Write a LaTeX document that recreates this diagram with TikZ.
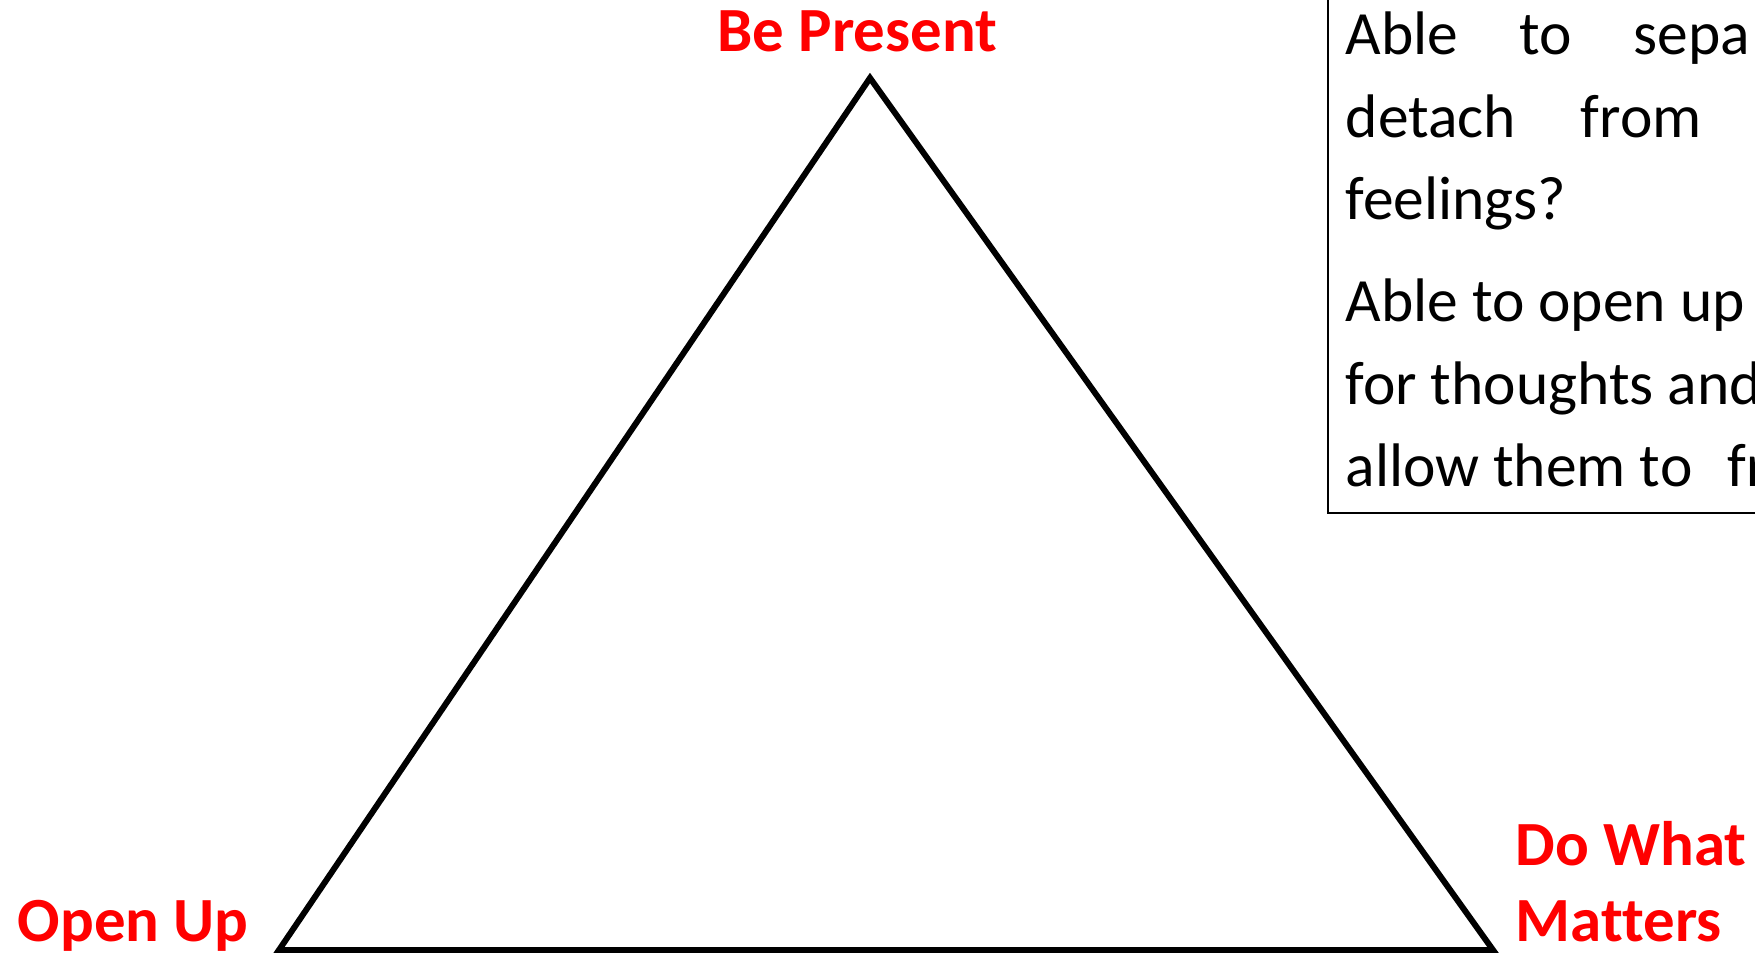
\documentclass[tikz,border=0pt]{standalone}
\usepackage{fontspec}
\setmainfont{Carlito}[Ligatures=NoCommon]
\usetikzlibrary{positioning}
\definecolor{actred}{HTML}{FF0000}

\begin{document}
\begin{tikzpicture}[
  corner/.style={font=\fontsize{17.9}{21.9}\selectfont\bfseries, text=actred, inner sep=0pt, align=left},
  boxtext/.style={font=\fontsize{17.5}{23.6}\selectfont, inner sep=0pt, align=left, anchor=base west},
  triline/.style={line width=1.7pt, line join=miter},
]
\useasboundingbox (0,0) rectangle (17.55,9.53);
\clip (0,0) rectangle (17.55,9.53);

% Triangle corners
\coordinate (apex) at (8.70, 8.75);
\coordinate (left) at (2.79, 0.03);
\coordinate (right) at (14.93, 0.03);
\draw[triline] (apex) -- (left) -- (right) -- cycle;

% Corner labels
\node[corner, anchor=base] (present) at (8.575, 9.01) {Be Present};
\node[corner, anchor=base west] (openup) at (0.17, 0.11) {Open Up};
\node[corner, anchor=base west] (doing) at (15.15, 0.11) {Do What\\Matters};

% Question box (runs off the page)
\draw[line width=0.6pt] (13.28, 4.40) rectangle (17.90, 9.90);
\node[boxtext] (qone) at (13.45, 7.33) {Able\hspace{17.5pt}to\hspace{17.5pt}sepa\\detach\hspace{18.5pt}from\\feelings?};
\node[boxtext] (qtwo) at (13.45, 4.66) {Able to open up\\for thoughts and\\allow them to\hspace{6pt} fr};

\end{tikzpicture}
\end{document}
